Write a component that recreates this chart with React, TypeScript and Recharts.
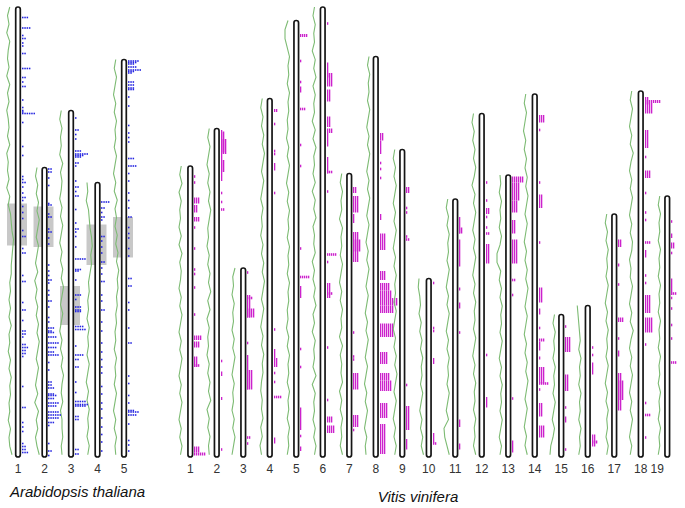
import React from "react";
import { ComposedChart, XAxis, YAxis, Scatter, ReferenceArea } from "recharts";

const W = 685;
const H = 508;
const PX = 26.5; // pixels per chromosome slot
const X_DOMAIN: [number, number] = [-18 / PX, (W - 18) / PX];
const GREEN = "#7dbb73";
const BLUE = "#2424e0";
const MAGENTA = "#cc22cc";
const FONT = "'Liberation Sans', Arial, sans-serif";

// Arabidopsis thaliana: lengths (Mb), centromere blocks, gene-density profile, marker rows [pos, count]
const atLabels = ["1", "2", "3", "4", "5"];
const atLengths = [30.0, 19.3, 23.1, 18.3, 26.5];
const atCentromeres = [
  [13.1, 15.9],
  [2.6, 5.3],
  [11.7, 14.3],
  [2.8, 5.5],
  [10.5, 13.2],
];
const atDensity = [
  "58695786958697685978695743201233546463657463546574652",
  "4635241352463746352413524637253641",
  "7968795867968579685746857968574675866576",
  "8796542132465768576857968576857",
  "5746857465746857364635241324354657465746857465",
];
const atMarks: number[][][] = [
  [[0.7, 3], [1.4, 4], [1.9, 1], [2.1, 2], [2.4, 1], [2.6, 1], [3.1, 2], [4.1, 4], [4.7, 2], [5.0, 1], [5.3, 2], [6.2, 1], [6.7, 1], [6.9, 1], [7.0, 1], [7.1, 6], [7.7, 1], [9.3, 1], [9.9, 1], [11.3, 1], [11.5, 1], [11.7, 2], [12.0, 1], [12.4, 1], [12.7, 2], [12.9, 1], [13.3, 1], [13.7, 1], [14.1, 1], [14.9, 1], [15.3, 2], [16.1, 1], [16.4, 2], [17.9, 1], [18.3, 2], [19.7, 1], [20.2, 2], [20.9, 1], [21.6, 2], [21.8, 2], [22.0, 1], [22.5, 2], [22.7, 3], [22.9, 2], [23.1, 2], [23.3, 1], [25.3, 1], [26.7, 2], [27.7, 1], [28.0, 1], [28.3, 1], [29.1, 1], [29.3, 2], [29.5, 2], [29.7, 3]],
  [[0.1, 2], [0.3, 2], [0.7, 1], [1.2, 1], [2.4, 1], [2.5, 2], [3.1, 1], [3.3, 2], [4.1, 1], [4.3, 2], [4.7, 1], [5.1, 1], [6.5, 1], [6.9, 1], [7.2, 1], [7.5, 2], [7.7, 1], [8.2, 1], [8.5, 1], [8.9, 2], [9.3, 1], [10.0, 1], [10.3, 1], [10.7, 3], [10.9, 2], [11.0, 3], [11.3, 4], [11.7, 5], [12.0, 4], [12.3, 3], [12.5, 5], [13.0, 1], [13.5, 1], [14.3, 2], [14.5, 2], [14.7, 3], [15.1, 3], [15.2, 4], [15.4, 3], [15.7, 5], [15.9, 4], [16.3, 5], [16.5, 6], [16.7, 5], [17.0, 3], [17.2, 1], [18.4, 1], [18.9, 2], [19.2, 1]],
  [[0.5, 1], [1.3, 2], [1.6, 1], [1.9, 1], [2.7, 3], [2.9, 6], [3.0, 4], [3.1, 3], [3.5, 2], [3.7, 1], [4.7, 1], [5.1, 2], [5.4, 1], [5.7, 2], [6.6, 1], [7.5, 1], [7.9, 2], [8.1, 1], [8.4, 1], [9.1, 1], [9.9, 5], [10.6, 3], [10.7, 2], [11.3, 1], [12.3, 3], [12.6, 1], [13.1, 3], [13.3, 3], [13.4, 3], [14.4, 4], [14.6, 5], [15.7, 1], [16.3, 4], [16.6, 2], [17.1, 2], [18.1, 1], [18.8, 1], [19.4, 5], [19.6, 6], [19.7, 5], [20.4, 2], [20.6, 2], [22.6, 2], [22.9, 2]],
  [[1.3, 4], [1.7, 2], [2.0, 1], [2.3, 2], [2.5, 1], [3.6, 2], [3.9, 1], [4.3, 1], [4.7, 1], [5.3, 2], [5.7, 1], [6.1, 1], [6.6, 2], [7.5, 1], [7.9, 1], [8.5, 2], [9.3, 1], [9.9, 1], [10.7, 1], [11.3, 1], [11.8, 1], [12.3, 1], [12.7, 1], [13.6, 1], [14.1, 1], [14.7, 1], [15.1, 1], [15.7, 1], [16.3, 1], [16.8, 1], [17.3, 1], [17.9, 1]],
  [[0.1, 5], [0.2, 4], [0.3, 3], [0.5, 4], [0.7, 6], [0.8, 3], [0.9, 2], [1.5, 3], [1.7, 3], [1.9, 3], [2.0, 3], [2.5, 1], [3.1, 1], [4.4, 1], [4.9, 1], [5.2, 1], [5.5, 1], [6.6, 3], [7.1, 4], [7.6, 1], [8.1, 1], [8.9, 1], [9.4, 1], [9.9, 1], [10.5, 2], [11.2, 1], [11.6, 1], [11.9, 1], [12.6, 1], [13.1, 1], [14.6, 2], [15.1, 2], [16.2, 1], [16.7, 1], [17.9, 1], [18.9, 2], [21.1, 1], [21.6, 1], [22.4, 1], [22.9, 1], [23.4, 3], [23.5, 5], [23.7, 4], [24.3, 1], [25.4, 1], [25.7, 1], [26.1, 1]],
];

// Vitis vinifera: lengths, density profile, marker runs [start, end, columns]
const vvLabels = ["1", "2", "3", "4", "5", "6", "7", "8", "9", "10", "11", "12", "13", "14", "15", "16", "17", "18", "19"];
const vvLengths = [19.4, 21.9, 12.6, 23.9, 29.1, 30.0, 18.9, 26.7, 20.5, 11.9, 17.2, 22.9, 18.8, 24.2, 9.5, 10.1, 16.2, 24.4, 17.4];
const vvDensity = [
  "6859687969586796857968579685796857",
  "4635746352465746352637465746352746354",
  "5879687968579687968579",
  "4635241352463546352413524635243564536475",
  "5996354635465746357463546354635465746354635463546",
  "5746584637465847365748463756485746375846573846574635",
  "46354735463574635473645374635463",
  "3524352463524635246357463574685746857968579687",
  "46352463524635243524635241352463524",
  "786574635243524635241",
  "463524352463524635243524639852",
  "574635247352463524635243524635243524352",
  "546354635994635243524635243524635",
  "6857968574635746857463574685746357468574",
  "35243524352463589",
  "876546354635463546",
  "4635243524635243524635243524",
  "685796847968579685697857968479685796857968",
  "463546354635463546354635463546",
];
const vvRuns: number[][][] = [
  [[0.7, 0.7, 1], [1.1, 1.1, 1], [2.1, 2.5, 3], [2.6, 3.1, 2], [3.4, 3.7, 3], [4.1, 4.1, 1], [5.5, 5.5, 1], [6.9, 6.9, 1], [7.2, 7.2, 1], [8.1, 8.1, 1], [9.9, 9.9, 1], [11.3, 11.6, 4], [11.7, 12.1, 3], [12.7, 13.4, 2], [13.3, 13.3, 3], [18.7, 19.1, 3], [19.1, 19.3, 6]],
  [[0.1, 3.5, 1], [0.2, 1.6, 2], [0.7, 1.7, 3], [2.1, 2.9, 2], [4.3, 4.3, 1], [4.9, 4.9, 1], [5.4, 5.4, 2], [15.5, 15.5, 1], [16.2, 16.5, 1], [17.9, 18.1, 1], [21.4, 21.4, 1]],
  [[0.3, 0.3, 1], [1.8, 3.3, 2], [2.0, 2.0, 3], [2.7, 3.3, 4], [5.0, 5.0, 1], [5.8, 8.1, 1], [6.8, 8.1, 3], [11.3, 11.3, 2], [11.7, 11.7, 1]],
  [[0.7, 0.9, 2], [1.7, 1.7, 1], [3.5, 3.5, 1], [3.7, 3.7, 1], [4.3, 4.8, 1], [6.3, 6.3, 1], [15.4, 15.4, 1], [16.7, 17.3, 1], [17.3, 17.9, 2], [18.3, 18.3, 1], [18.9, 18.9, 1], [19.9, 19.9, 4], [22.6, 23.0, 1]],
  [[0.9, 1.1, 4], [2.7, 2.7, 1], [4.1, 4.1, 1], [4.4, 4.8, 1], [5.9, 5.9, 3], [8.3, 8.3, 1], [9.7, 9.7, 1], [15.2, 15.2, 1], [17.1, 17.1, 5], [17.7, 18.5, 1], [21.9, 21.9, 1], [23.1, 23.1, 1], [25.8, 27.3, 1], [27.7, 27.7, 1], [28.4, 28.7, 1]],
  [[1.1, 1.1, 1], [3.7, 4.7, 1], [4.4, 5.3, 3], [5.5, 6.3, 2], [7.3, 8.0, 2], [8.1, 8.4, 3], [8.4, 9.3, 1], [10.0, 11.1, 1], [11.0, 11.0, 3], [12.3, 12.3, 1], [16.5, 16.5, 5], [17.0, 17.0, 1], [18.4, 19.4, 2], [19.1, 19.1, 3], [22.7, 22.7, 1], [26.2, 26.2, 1], [27.3, 27.7, 3], [27.9, 28.4, 4]],
  [[0.9, 1.3, 2], [1.5, 2.6, 3], [2.7, 3.3, 1], [3.9, 5.9, 3], [4.4, 5.2, 4], [10.6, 10.6, 1], [12.2, 12.2, 1], [12.4, 12.4, 1], [13.3, 14.4, 3], [16.1, 16.9, 3], [17.1, 17.1, 1]],
  [[5.1, 5.6, 2], [5.6, 6.5, 1], [7.1, 7.1, 1], [7.5, 7.5, 1], [8.1, 8.1, 1], [10.5, 10.9, 1], [11.8, 12.9, 3], [14.3, 14.9, 3], [15.1, 15.6, 5], [15.6, 16.1, 6], [16.1, 16.6, 9], [16.6, 17.1, 7], [17.8, 18.7, 7], [19.7, 20.5, 4], [21.1, 21.6, 5], [21.6, 22.3, 6], [23.1, 24.1, 4], [24.5, 26.5, 3]],
  [[2.5, 2.9, 2], [3.9, 3.9, 1], [4.2, 4.2, 1], [5.8, 5.8, 1], [6.0, 6.0, 2], [15.7, 15.7, 1], [17.1, 18.7, 2], [19.3, 20.0, 1]],
  [[0.3, 0.3, 1], [3.3, 3.3, 1], [3.5, 3.5, 1], [5.3, 5.7, 1], [10.3, 11.0, 1], [11.0, 11.0, 2]],
  [[1.2, 2.3, 1], [1.9, 2.3, 2], [2.7, 4.5, 1], [5.9, 6.1, 1], [6.9, 7.3, 1], [8.9, 8.9, 1], [14.7, 15.2, 1], [16.3, 16.7, 1]],
  [[4.6, 4.6, 1], [5.8, 5.8, 1], [6.3, 6.7, 2], [6.9, 6.9, 1], [7.6, 7.6, 1], [8.0, 8.0, 2], [8.7, 10.0, 2], [16.1, 16.1, 1], [18.9, 19.6, 1]],
  [[0.1, 0.5, 6], [0.5, 1.7, 4], [1.7, 2.5, 3], [3.0, 3.9, 2], [4.3, 5.9, 3], [7.0, 7.0, 2], [8.0, 8.0, 1], [14.9, 14.9, 1], [17.7, 18.5, 1]],
  [[1.4, 1.9, 3], [2.4, 2.4, 1], [5.9, 5.9, 1], [6.7, 7.6, 2], [9.9, 9.9, 1], [12.9, 13.9, 2], [14.3, 14.7, 1], [15.6, 15.6, 1], [16.3, 16.5, 3], [16.5, 17.1, 1], [17.5, 17.7, 1], [18.2, 19.3, 3], [19.3, 19.3, 5], [19.7, 19.7, 1], [20.6, 21.5, 2], [22.1, 22.9, 3]],
  [[0.8, 0.8, 1], [1.5, 2.5, 3], [4.0, 5.1, 2], [6.2, 6.2, 1], [6.8, 7.2, 1], [9.0, 9.0, 1]],
  [[2.8, 2.8, 1], [3.3, 3.3, 1], [3.8, 4.6, 1], [8.6, 9.4, 2], [9.0, 9.2, 3]],
  [[1.7, 2.2, 2], [3.3, 3.5, 1], [4.7, 4.7, 1], [6.9, 7.2, 3], [8.3, 8.3, 1], [9.1, 9.5, 1], [10.6, 13.1, 2], [11.1, 12.4, 3]],
  [[0.4, 0.9, 2], [0.6, 0.8, 8], [0.8, 1.5, 4], [2.6, 3.8, 2], [4.4, 4.4, 1], [5.3, 5.8, 3], [6.8, 6.8, 1], [8.1, 8.1, 1], [8.6, 8.6, 1], [10.1, 10.1, 3], [10.6, 11.1, 1], [12.3, 12.3, 1], [12.8, 12.8, 1], [13.6, 14.8, 3], [15.1, 16.1, 4], [16.9, 16.9, 1], [20.8, 20.8, 1], [21.6, 21.6, 3], [23.1, 23.1, 1]],
  [[1.7, 1.7, 1], [2.5, 2.8, 1], [3.1, 3.5, 2], [3.8, 3.8, 1], [5.5, 6.6, 1], [6.5, 6.5, 3], [6.8, 6.8, 1], [7.5, 7.5, 1], [8.6, 8.6, 1], [9.5, 9.5, 1], [11.1, 11.1, 3]],
];

const atSlots = atLabels.map((_, i) => i);
const vvSlots = vvLabels.map((_, i) => 6.5 + i);
const tickSlots = [...atSlots, ...vvSlots];
const tickLabels = [...atLabels, ...vvLabels];
const labelNudge: Record<number, number> = { 23: -10 };

const chromosomes = [
  ...atLengths.map((len, i) => ({ slot: atSlots[i], len })),
  ...vvLengths.map((len, i) => ({ slot: vvSlots[i], len })),
];
const densities = [
  ...atDensity.map((s, i) => ({ slot: atSlots[i], len: atLengths[i], s })),
  ...vvDensity.map((s, i) => ({ slot: vvSlots[i], len: vvLengths[i], s })),
];

const densityPoints = (slot: number, len: number, s: string) =>
  s.split("").map((ch, i, arr) => ({
    x: slot - (4.5 + Number(ch) * 0.75) / PX,
    y: len - (i * (len - 0.15)) / (arr.length - 1),
  }));

const atPoints = atMarks.flatMap((rows, i) =>
  rows.map(([pos, n]) => ({ x: atSlots[i] + 3.8 / PX, y: atLengths[i] - pos, n }))
);

const Dots = (props: any) => {
  const { cx, cy, payload } = props;
  const out = [];
  const x0 = Math.round(cx);
  for (let k = 0; k < payload.n; k++) {
    out.push(<rect key={k} x={x0 + k * 2.3} y={cy - 0.8} width={1.5} height={1.6} fill={BLUE} />);
  }
  return <g>{out}</g>;
};

const Stripes = (props: any) => {
  const { x, y, height, n } = props;
  const h = Math.max(height, 2.6);
  const top = y + height / 2 - h / 2;
  const x0 = Math.round(x);
  const out = [];
  for (let k = 0; k < n; k++) {
    out.push(<rect key={k} x={x0 + k * 2} y={top} width={1.3} height={h} fill={MAGENTA} />);
  }
  return <g>{out}</g>;
};

const Chromosome = (p: any) => (
  <rect x={p.x} y={p.y} width={p.width} height={p.height} rx={p.width / 2} ry={p.width / 2} fill="#fff" stroke="#151515" strokeWidth={1.7} />
);

const renderTick = (props: any) => {
  const { x, y, index } = props;
  return (
    <text x={x + (labelNudge[index] ?? 0)} y={y} dy={8} textAnchor="middle" fontSize={12} fill="#333" fontFamily={FONT}>
      {tickLabels[index]}
    </text>
  );
};

export default function App() {
  return (
    <div style={{ position: "relative", width: W, height: H, background: "#fff" }}>
      <style>{"body{margin:0}"}</style>
      <ComposedChart width={W} height={H} margin={{ top: 7, right: 0, bottom: 31, left: 0 }}>
        <XAxis
          type="number"
          dataKey="x"
          domain={X_DOMAIN}
          ticks={tickSlots}
          interval={0}
          axisLine={false}
          tickLine={false}
          height={20}
          tick={renderTick}
        />
        <YAxis type="number" dataKey="y" domain={[0, 30]} hide />
        {atCentromeres.map(([a, b], i) => (
          <ReferenceArea
            key={`cen${i}`}
            x1={atSlots[i] - 11 / PX}
            x2={atSlots[i] + 9 / PX}
            y1={atLengths[i] - a}
            y2={atLengths[i] - b}
            fill="#c8c8c8"
            fillOpacity={1}
            stroke="none"
          />
        ))}
        {chromosomes.map((c, i) => (
          <ReferenceArea
            key={`chr${i}`}
            x1={c.slot - 2.3 / PX}
            x2={c.slot + 2.3 / PX}
            y1={0}
            y2={c.len}
            shape={Chromosome}
          />
        ))}
        {vvRuns.flatMap((runs, i) =>
          runs.map(([a, b, n], j) => (
            <ReferenceArea
              key={`run${i}-${j}`}
              x1={vvSlots[i] + 4 / PX}
              x2={vvSlots[i] + (4 + n * 2) / PX}
              y1={vvLengths[i] - a}
              y2={vvLengths[i] - b}
              shape={(p: any) => <Stripes {...p} n={n} />}
            />
          ))
        )}
        {densities.map((d, i) => (
          <Scatter
            key={`dens${i}`}
            data={densityPoints(d.slot, d.len, d.s)}
            fill={GREEN}
            line={{ stroke: GREEN, strokeWidth: 1.1 }}
            shape={() => <g />}
            isAnimationActive={false}
          />
        ))}
        <Scatter data={atPoints} fill={BLUE} shape={Dots} isAnimationActive={false} />
      </ComposedChart>
      <svg width={W} height={H} style={{ position: "absolute", left: 0, top: 0, pointerEvents: "none" }}>
        <text x={10} y={497} fontSize={15} fontStyle="italic" fill="#111" fontFamily={FONT}>
          Arabidopsis thaliana
        </text>
        <text x={418} y={502} fontSize={15} fontStyle="italic" fill="#111" textAnchor="middle" fontFamily={FONT}>
          Vitis vinifera
        </text>
      </svg>
    </div>
  );
}
